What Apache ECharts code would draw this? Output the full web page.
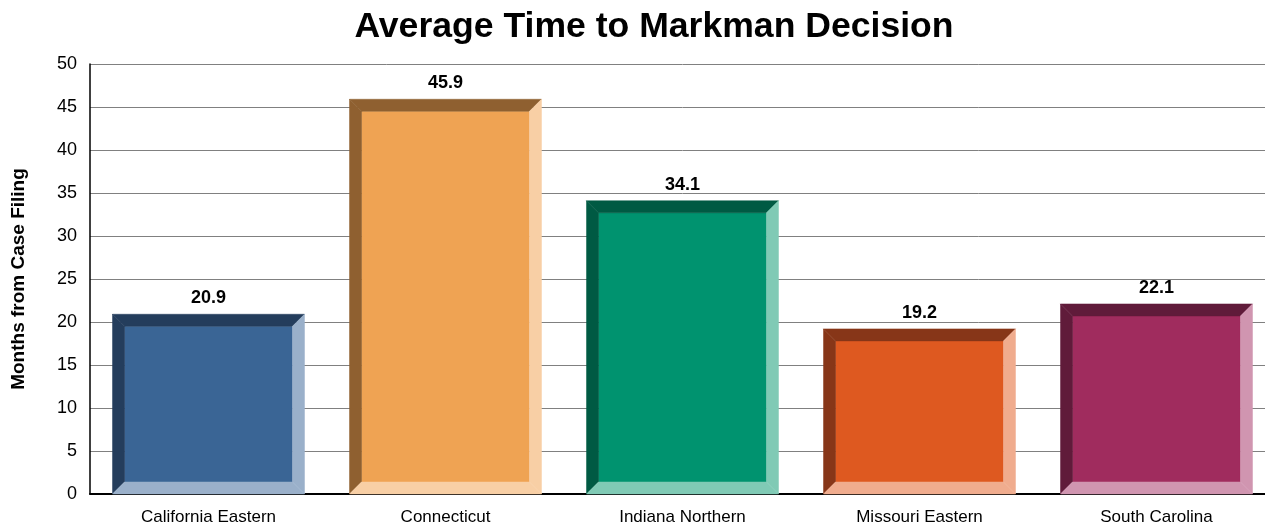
<!DOCTYPE html>
<html><head><meta charset="utf-8">
<script src="https://cdn.jsdelivr.net/npm/echarts@6/dist/echarts.min.js"></script>
<style>html,body{margin:0;padding:0;background:#fff;overflow:hidden}#c{width:1275px;height:527px}</style>
</head><body><div id="c"></div>
<script>
const categories = ['California Eastern','Connecticut','Indiana Northern','Missouri Eastern','South Carolina'];
const values = [20.9, 45.9, 34.1, 19.2, 22.1];
const yTicks = [0,5,10,15,20,25,30,35,40,45,50];
const mainColors = ['#3A6595','#EFA353','#00936F','#DE5920','#A02C5E'];
const darkColors = ['#243D5C','#8F6030','#005A43','#873618','#601B3A'];
const lightColors = ['#9AB0CA','#F8CFA5','#80CAB5','#F0AC8E','#D095B0'];

const chart = echarts.init(document.getElementById('c'), null, {renderer:'canvas'});
const F = 'Arial, "Liberation Sans", Helvetica, sans-serif';
chart.setOption({
  animation:false,
  title:{text:'Average Time to Markman Decision',left:649,textAlign:'center',top:4,
    textStyle:{fontFamily:F,fontSize:35.6,fontWeight:'bold',color:'#000'}},
  grid:{left:90,right:0,top:64,bottom:33},
  xAxis:{type:'category',data:categories,
    axisLine:{lineStyle:{color:'#000',width:2}},axisTick:{show:false},
    axisLabel:{fontFamily:F,fontSize:17,color:'#000',margin:15}},
  yAxis:{type:'value',min:yTicks[0],max:yTicks[yTicks.length-1],interval:5,
    name:'Months from Case Filing',nameLocation:'middle',nameGap:62,
    nameTextStyle:{fontFamily:F,fontSize:19,fontWeight:'bold',color:'#000'},
    axisLine:{show:true,lineStyle:{color:'#000',width:1.5}},axisTick:{show:false},
    axisLabel:{fontFamily:F,fontSize:18,color:'#000',margin:13},
    splitLine:{lineStyle:{color:'#808080',width:1}}},
  series:[{type:'custom',
    data:values.map((v,i)=>[i,v]),
    renderItem:function(params,api){
      const i=api.value(0), v=api.value(1);
      const top=api.coord([i,v]), base=api.coord([i,0]);
      const w=api.size([1,0])[0]*0.81;
      const x0=top[0]-w/2, x1=top[0]+w/2, y1=top[1], y0=base[1];
      const b=12;
      const poly=(pts,c)=>({type:'polygon',shape:{points:pts},style:{fill:c,stroke:c,lineWidth:0.5}});
      return {type:'group',children:[
        {type:'rect',shape:{x:x0+b,y:y1+b,width:w-2*b,height:y0-y1-2*b},style:{fill:mainColors[i],stroke:mainColors[i],lineWidth:0.5}},
        poly([[x0,y1],[x1,y1],[x1-b,y1+b],[x0+b,y1+b]],darkColors[i]),
        poly([[x0,y1],[x0+b,y1+b],[x0+b,y0-b],[x0,y0]],darkColors[i]),
        poly([[x1,y1],[x1,y0],[x1-b,y0-b],[x1-b,y1+b]],lightColors[i]),
        poly([[x0,y0],[x1,y0],[x1-b,y0-b],[x0+b,y0-b]],lightColors[i]),
        {type:'text',style:{text:String(v),x:top[0],y:y1-7,align:'center',verticalAlign:'bottom',
          font:'bold 18px '+F,fill:'#000'}}
      ]};
    }
  }]
});
</script></body></html>
